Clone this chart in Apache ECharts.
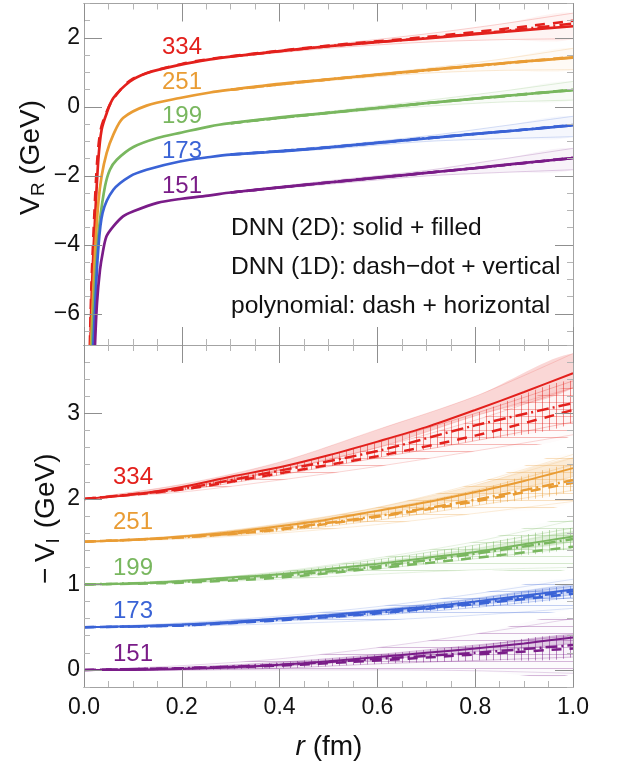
<!DOCTYPE html>
<html><head><meta charset="utf-8">
<script src="https://cdn.jsdelivr.net/npm/echarts@6/dist/echarts.min.js"></script>
<style>html,body{margin:0;padding:0;background:#fff}#c{width:617px;height:771px}</style>
</head><body><div id="c"></div>
<script>
// ---------------- DATA ----------------
const temps = ['334', '251', '199', '173', '151'];
const colorHex = ['#e3201c', '#e99c34', '#79b75f', '#3a63d6', '#7a1c88'];

// Top panel: V_R (GeV) vs r (fm) -- DNN (2D) solid curves
const rR_334 = [0.0129,0.0163,0.0225,0.0293,0.036,0.0464,0.06,0.094,0.128,0.196,0.258,0.3,0.4,0.5,0.6,0.7,0.8,0.9,1.0];
const vR_334 = [-6.9,-5.2,-3.27,-1.53,-0.66,-0.18,0.26,0.74,0.98,1.22,1.38,1.46,1.62,1.76,1.88,1.99,2.11,2.23,2.34];
const rR_251 = [0.0143,0.0178,0.0225,0.0293,0.036,0.0464,0.06,0.0798,0.128,0.196,0.258,0.3,0.4,0.5,0.6,0.7,0.8,0.9,1.0];
const vR_251 = [-6.9,-5.68,-4.23,-2.78,-2.01,-1.33,-0.8,-0.32,0.04,0.26,0.42,0.5,0.67,0.8,0.94,1.07,1.2,1.32,1.43];
const rR_199 = [0.0164,0.0204,0.0266,0.0327,0.043,0.053,0.067,0.101,0.15,0.2,0.258,0.3,0.4,0.5,0.6,0.7,0.8,0.9,1.0];
const vR_199 = [-6.9,-5.68,-4.23,-3.27,-2.3,-1.82,-1.53,-1.16,-0.9,-0.74,-0.56,-0.47,-0.3,-0.17,-0.03,0.11,0.24,0.37,0.49];
const rR_173 = [0.019,0.0232,0.0286,0.038,0.06,0.094,0.128,0.196,0.258,0.3,0.4,0.5,0.6,0.7,0.8,0.9,1.0];
const vR_173 = [-6.9,-5.68,-4.23,-3.07,-2.4,-2.01,-1.82,-1.58,-1.45,-1.38,-1.29,-1.17,-1.04,-0.91,-0.78,-0.66,-0.53];
const rR_151 = [0.0225,0.0266,0.0327,0.0382,0.046,0.06,0.0798,0.1,0.15,0.2,0.258,0.3,0.4,0.5,0.6,0.7,0.8,0.9,1.0];
const vR_151 = [-6.9,-5.68,-4.72,-4.23,-3.75,-3.46,-3.17,-3.03,-2.78,-2.66,-2.56,-2.48,-2.33,-2.19,-2.05,-1.91,-1.77,-1.62,-1.48];

// Top panel: polynomial (dashed) and DNN 1D (dash-dot)
const rRd_334 = [0.0118,0.015,0.0205,0.027,0.034,0.045,0.06,0.1,0.2,0.3,0.5,0.7,0.85,1.0];
const vRd_334 = [-6.9,-5.2,-3.27,-1.53,-0.66,-0.18,0.24,0.82,1.25,1.47,1.78,2.03,2.25,2.5];
const rRd = [0.3,0.5,0.7,0.85,1.0];
const vRdd_334 = [1.46,1.76,2.0,2.19,2.42];
const vRd_251 = [0.5,0.8,1.07,1.26,1.45];
const vRdd_251 = [0.5,0.8,1.06,1.25,1.44];
const vRd_199 = [-0.47,-0.17,0.11,0.31,0.5];
const vRdd_199 = [-0.47,-0.17,0.11,0.3,0.49];
const vRd_173 = [-1.38,-1.17,-0.9,-0.72,-0.52];
const vRdd_173 = [-1.38,-1.17,-0.91,-0.72,-0.53];
const vRd_151 = [-2.48,-2.19,-1.91,-1.7,-1.47];
const vRdd_151 = [-2.48,-2.19,-1.91,-1.7,-1.48];

// Top panel: uncertainty fans (upper / lower edges)
const rRb = [0.3,0.5,0.7,0.85,1.0];
const hiR_334 = [1.47,1.8,2.12,2.4,2.72], loR_334 = [1.44,1.7,1.88,1.95,1.98];
const hiR_251 = [0.51,0.83,1.12,1.38,1.7], loR_251 = [0.49,0.76,0.98,1.06,1.08];
const hiR_199 = [-0.46,-0.13,0.19,0.45,0.74], loR_199 = [-0.48,-0.2,0.02,0.14,0.2];
const hiR_173 = [-1.37,-1.13,-0.84,-0.56,-0.27], loR_173 = [-1.39,-1.22,-1.0,-0.92,-0.86];
const hiR_151 = [-2.46,-2.14,-1.84,-1.52,-1.2], loR_151 = [-2.48,-2.24,-2.0,-1.9,-1.82];

// Bottom panel: -V_I (GeV), DNN (2D) solid
const rI = [0,0.1,0.2,0.3,0.4,0.5,0.6,0.7,0.8,0.9,1.0];
const vI_334 = [2.0,2.05,2.14,2.26,2.37,2.51,2.67,2.84,3.04,3.25,3.47];
const vI_251 = [1.5,1.52,1.56,1.61,1.68,1.76,1.86,1.96,2.08,2.21,2.36];
const vI_199 = [1.0,1.01,1.04,1.08,1.12,1.18,1.24,1.31,1.38,1.47,1.56];
const vI_173 = [0.5,0.51,0.53,0.56,0.6,0.64,0.69,0.74,0.8,0.87,0.94];
const vI_151 = [0.0,0.0,0.01,0.03,0.06,0.1,0.15,0.2,0.25,0.31,0.38];

// Bottom panel: DNN (1D) dash-dot and polynomial dashed
const rB = [0,0.2,0.4,0.6,0.8,1.0];
const ddI_334 = [2.0,2.12,2.33,2.56,2.86,3.12];
const ddI_251 = [1.5,1.55,1.65,1.8,1.99,2.22];
const ddI_199 = [1.0,1.03,1.1,1.21,1.36,1.53];
const ddI_173 = [0.5,0.52,0.59,0.67,0.78,0.92];
const ddI_151 = [0.0,0.02,0.06,0.13,0.2,0.29];
const dI_334 = [2.0,2.11,2.3,2.5,2.74,3.04];
const dI_251 = [1.5,1.55,1.64,1.79,1.97,2.19];
const dI_199 = [1.0,1.02,1.08,1.19,1.31,1.44];
const dI_173 = [0.5,0.52,0.58,0.66,0.77,0.89];
const dI_151 = [0.0,0.02,0.05,0.11,0.18,0.25];

// Bottom panel bands: 2D (filled), 1D (vertical hatch), polynomial (horizontal hatch)
const hi2_334 = [2.0,2.17,2.43,2.81,3.2,3.7],  lo2_334 = [2.0,2.12,2.33,2.6,2.97,3.3];
const hi2_251 = [1.5,1.57,1.71,1.9,2.16,2.48], lo2_251 = [1.5,1.55,1.66,1.82,2.02,2.26];
const hi2_199 = [1.0,1.04,1.13,1.26,1.42,1.62], lo2_199 = [1.0,1.03,1.1,1.22,1.35,1.5];
const hi2_173 = [0.5,0.54,0.61,0.71,0.84,1.0],  lo2_173 = [0.5,0.52,0.58,0.66,0.76,0.88];
const hi2_151 = [0,0.03,0.08,0.17,0.28,0.42],   lo2_151 = [0,0.01,0.04,0.12,0.21,0.31];
const hi1_334 = [2.0,2.14,2.37,2.66,3.0,3.38],  lo1_334 = [2.0,2.1,2.28,2.48,2.68,2.9];
const hi1_251 = [1.5,1.57,1.69,1.87,2.1,2.4],   lo1_251 = [1.5,1.54,1.62,1.75,1.92,2.1];
const hi1_199 = [1.0,1.05,1.14,1.29,1.46,1.66], lo1_199 = [1.0,1.02,1.08,1.18,1.3,1.43];
const hi1_173 = [0.5,0.54,0.61,0.7,0.83,0.98],  lo1_173 = [0.5,0.52,0.57,0.64,0.73,0.85];
const hi1_151 = [0,0.03,0.09,0.18,0.29,0.4],    lo1_151 = [0,0.0,0.02,0.07,0.11,0.15];
const hiP_334 = [2.0,2.13,2.34,2.6,2.92,3.3],   loP_334 = [2.0,2.08,2.22,2.38,2.56,2.75];
const hiP_251 = [1.5,1.57,1.7,1.9,2.18,2.52],   loP_251 = [1.5,1.53,1.6,1.7,1.83,1.97];
const hiP_199 = [1.0,1.05,1.15,1.31,1.5,1.75],  loP_199 = [1.0,1.02,1.06,1.12,1.17,1.2];
const hiP_173 = [0.5,0.55,0.63,0.74,0.89,1.06], loP_173 = [0.5,0.51,0.54,0.58,0.64,0.72];
const hiP_151 = [0,0.05,0.13,0.26,0.42,0.6],    loP_151 = [0,0.0,0.0,0.0,-0.01,-0.04];

// Tick values
const xMajor = [0,0.2,0.4,0.6,0.8,1.0];
const xMinor = [0.05,0.1,0.15,0.25,0.3,0.35,0.45,0.5,0.55,0.65,0.7,0.75,0.85,0.9,0.95];
const yRMajor = [-6,-4,-2,0,2];
const yRMinor = [-6.5,-5.5,-5,-4.5,-3.5,-3,-2.5,-1.5,-1,-0.5,0.5,1,1.5,2.5,3];
const yIMajor = [0,1,2,3];
const yIMinor = [-0.2,0.2,0.4,0.6,0.8,1.2,1.4,1.6,1.8,2.2,2.4,2.6,2.8,3.2,3.4,3.6,3.8];

// ---------------- CHART ----------------
const FONT = '"Liberation Sans", Arial, Helvetica, sans-serif';
const FRAME = '#a3a3a3', TICK = '#8f8f8f', MINOR = '#b5b5b5';

function rgba(hex, a) {
  const n = parseInt(hex.slice(1), 16);
  return 'rgba(' + (n >> 16) + ',' + ((n >> 8) & 255) + ',' + (n & 255) + ',' + a + ')';
}
function zip(r, v) { return r.map((x, i) => [x, v[i]]); }
function hatch(color, vertical) {
  const cv = document.createElement('canvas');
  cv.width = 7; cv.height = 7;
  const ctx = cv.getContext('2d');
  ctx.fillStyle = color;
  if (vertical) ctx.fillRect(3, 0, 1, 7); else ctx.fillRect(0, 3, 7, 1);
  return {image: cv, repeat: 'repeat'};
}

const SM = 0.3;
const series = [];
function line(g, r, v, color, width, type, z) {
  series.push({type: 'line', xAxisIndex: g * 4, yAxisIndex: g * 4, data: zip(r, v),
    symbol: 'none', showSymbol: false, smooth: SM, silent: true, z: z,
    lineStyle: {color: color, width: width, type: type, cap: 'butt'}});
}
function band(g, r, lo, hi, fill, pattern, edge, edgeW, z) {
  series.push({type: 'custom', coordinateSystem: 'cartesian2d', xAxisIndex: g * 4, yAxisIndex: g * 4,
    data: [[r[0], lo[0]]], silent: true, z: z, clip: true,
    renderItem: function (params, api) {
      const up = r.map((x, i) => api.coord([x, hi[i]]));
      let dn = r.map((x, i) => api.coord([x, lo[i]])).reverse();
      if (hi[0] === lo[0]) dn = dn.slice(0, dn.length - 1);
      const pts = up.concat(dn);
      const ch = [{type: 'polygon', shape: {points: pts, smooth: SM}, style: {fill: fill}}];
      if (pattern) ch.push({type: 'polygon', shape: {points: pts, smooth: SM}, style: {fill: pattern}});
      return {type: 'group', children: ch};
    }});
  if (edge) {
    line(g, r, lo, edge, edgeW, 'solid', z);
    line(g, r, hi, edge, edgeW, 'solid', z);
  }
}

const TOP = {
  '334': [rR_334, vR_334, rRd_334, vRd_334, vRdd_334, hiR_334, loR_334],
  '251': [rR_251, vR_251, rRd, vRd_251, vRdd_251, hiR_251, loR_251],
  '199': [rR_199, vR_199, rRd, vRd_199, vRdd_199, hiR_199, loR_199],
  '173': [rR_173, vR_173, rRd, vRd_173, vRdd_173, hiR_173, loR_173],
  '151': [rR_151, vR_151, rRd, vRd_151, vRdd_151, hiR_151, loR_151]
};
const BOT = {
  '334': [vI_334, ddI_334, dI_334, hi2_334, lo2_334, hi1_334, lo1_334, hiP_334, loP_334],
  '251': [vI_251, ddI_251, dI_251, hi2_251, lo2_251, hi1_251, lo1_251, hiP_251, loP_251],
  '199': [vI_199, ddI_199, dI_199, hi2_199, lo2_199, hi1_199, lo1_199, hiP_199, loP_199],
  '173': [vI_173, ddI_173, dI_173, hi2_173, lo2_173, hi1_173, lo1_173, hiP_173, loP_173],
  '151': [vI_151, ddI_151, dI_151, hi2_151, lo2_151, hi1_151, lo1_151, hiP_151, loP_151]
};

temps.forEach((T, k) => {
  const c = colorHex[k];
  const t = TOP[T];
  band(0, rRb, t[6], t[5], rgba(c, 0.05), null, rgba(c, 0.3), 0.7, 1);
  line(0, rRd, t[4], c, 2.5, [12, 4, 2, 4], 3);
  line(0, t[2], t[3], c, 2.5, [10, 8], 3);
  line(0, t[0], t[1], c, 2.7, 'solid', 4);

  const b = BOT[T];
  band(1, rB, b[4], b[3], rgba(c, 0.18), null, rgba(c, 0.25), 0.6, 1);
  band(1, rB, b[6], b[5], rgba(c, 0.03), hatch(rgba(c, 0.5), true), rgba(c, 0.45), 0.6, 1);
  band(1, rB, b[8], b[7], rgba(c, 0.02), hatch(rgba(c, 0.3), false), rgba(c, 0.3), 0.6, 1);
  line(1, rB, b[1], c, 2.5, [12, 4, 2, 4], 3);
  line(1, rB, b[2], c, 2.5, [10, 8], 3);
  line(1, rI, b[0], c, 2, 'solid', 4);
});

function fmtNum(v) { return v < 0 ? '\u2212' + Math.abs(v) : String(v); }
const labelStyle = {fontSize: 23, color: '#111', fontFamily: FONT};

function mkX(g, pos, vals, len, color, showLabel) {
  return {gridIndex: g, type: 'value', position: pos, min: 0, max: 1, z: 6,
    axisLine: {show: true, onZero: false, lineStyle: {color: FRAME, width: 1}},
    axisTick: {show: true, inside: true, length: len, customValues: vals, lineStyle: {color: color, width: 1}},
    axisLabel: Object.assign({show: showLabel, customValues: vals, margin: 9, formatter: v => v.toFixed(1)}, labelStyle),
    splitLine: {show: false}, minorTick: {show: false}};
}
function mkY(g, pos, vals, len, color, showLabel, min, max) {
  return {gridIndex: g, type: 'value', position: pos, min: min, max: max, z: 6,
    axisLine: {show: true, onZero: false, lineStyle: {color: FRAME, width: 1}},
    axisTick: {show: true, inside: true, length: len, customValues: vals, lineStyle: {color: color, width: 1}},
    axisLabel: Object.assign({show: showLabel, customValues: vals, margin: 4, formatter: fmtNum}, labelStyle),
    splitLine: {show: false}, minorTick: {show: false}};
}

const xAxes = [], yAxes = [];
[[0, -6.9, 3, yRMajor, yRMinor], [1, -0.2, 3.8, yIMajor, yIMinor]].forEach(([g, mn, mx, maj, mnr]) => {
  xAxes.push(mkX(g, 'bottom', xMajor, 18, TICK, g === 1));
  xAxes.push(mkX(g, 'bottom', xMinor, 6, MINOR, false));
  xAxes.push(mkX(g, 'top', xMajor, 18, TICK, false));
  xAxes.push(mkX(g, 'top', xMinor, 6, MINOR, false));
  yAxes.push(mkY(g, 'left', maj, 18, TICK, true, mn, mx));
  yAxes.push(mkY(g, 'left', mnr, 6, MINOR, false, mn, mx));
  yAxes.push(mkY(g, 'right', maj, 18, TICK, false, mn, mx));
  yAxes.push(mkY(g, 'right', mnr, 6, MINOR, false, mn, mx));
});

function txt(x, y, s, color, size, align, extra) {
  return Object.assign({type: 'text', x: x, y: y, z: 20, silent: true,
    style: {text: s, fill: color, fontSize: size, fontFamily: FONT,
      align: align || 'left', textAlign: align || 'left', verticalAlign: 'middle', textVerticalAlign: 'middle'}}, extra || {});
}

const graphics = [];
const topLabelY = [47, 82, 116, 151, 186];
const botLabelY = [477.5, 522.5, 568, 611.5, 654];
temps.forEach((T, k) => {
  graphics.push(txt(162, topLabelY[k], T, colorHex[k], 24));
  graphics.push(txt(113, botLabelY[k], T, colorHex[k], 24));
});
graphics.push(txt(231, 228, 'DNN (2D): solid + filled', '#111', 24.6));
graphics.push(txt(231, 267, 'DNN (1D): dash\u2212dot + vertical', '#111', 24.6));
graphics.push(txt(231, 306, 'polynomial: dash + horizontal', '#111', 24.6));

// axis titles
graphics.push({type: 'group', x: 31, y: 162, rotation: Math.PI / 2, silent: true, children: [
  txt(-53, 0, 'V', '#111', 28),
  txt(-34, 8, 'R', '#111', 19),
  txt(-20.5, 0, ' (GeV)', '#111', 28)
]});
graphics.push({type: 'group', x: 46, y: 516, rotation: Math.PI / 2, silent: true, children: [
  txt(-68, 0, '\u2212', '#111', 28),
  txt(-46, 0, 'V', '#111', 28),
  txt(-27.5, 8, 'I', '#111', 19),
  txt(-20, 0, ' (GeV)', '#111', 28)
]});
graphics.push({type: 'text', x: 329, y: 747, z: 20, silent: true,
  style: {text: '{i|r} (fm)', fill: '#111', fontSize: 28, fontFamily: FONT,
    align: 'center', textAlign: 'center', verticalAlign: 'middle', textVerticalAlign: 'middle',
    rich: {i: {fontStyle: 'italic', fontSize: 28, fontFamily: FONT, fill: '#111'}}}});

const chart = echarts.init(document.getElementById('c'), null, {renderer: 'canvas', width: 617, height: 771});
chart.setOption({
  animation: false,
  backgroundColor: '#fff',
  grid: [
    {left: 84, top: 3.5, width: 489, height: 341.5, containLabel: false},
    {left: 84, top: 345, width: 489, height: 342, containLabel: false}
  ],
  xAxis: xAxes,
  yAxis: yAxes,
  series: series,
  graphic: graphics
});
</script>
</body></html>
